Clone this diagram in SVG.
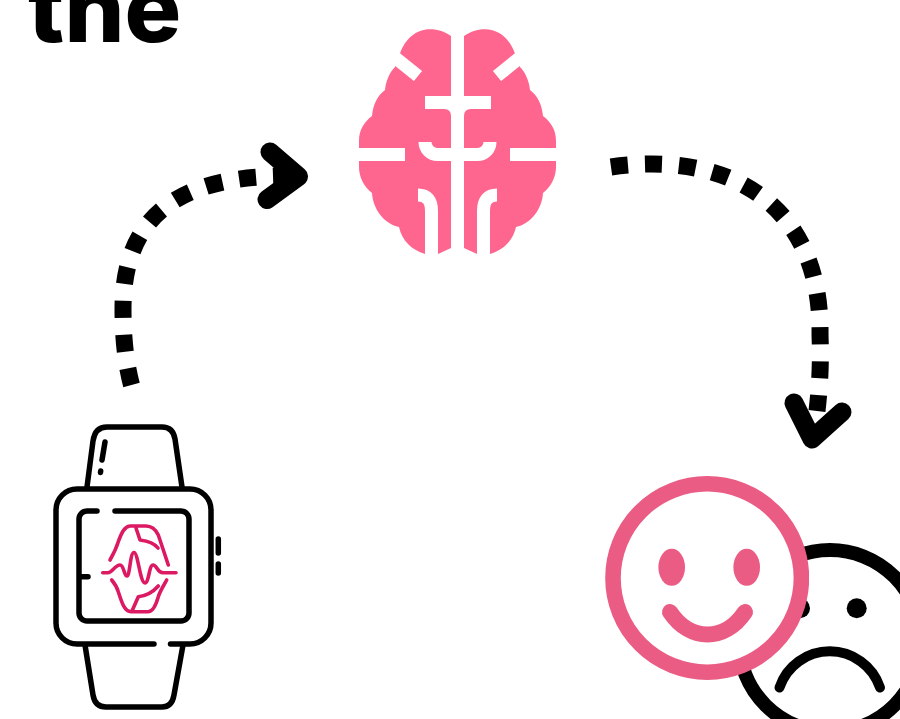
<svg xmlns="http://www.w3.org/2000/svg" width="900" height="719" viewBox="0 0 900 719">
<style>
.title{font-family:Inter,"Liberation Sans",Arial,sans-serif;font-weight:800;font-size:94.500px;fill:#000}
.cut{fill:none;stroke:#fff;stroke-width:13}
.ink{fill:none;stroke:#000;stroke-width:5.5;stroke-linecap:round;stroke-linejoin:round}
.wave{fill:none;stroke:#dc1a63;stroke-width:3.6;stroke-linecap:round;stroke-linejoin:round}
.dash{fill:none;stroke:#000;stroke-width:17}
.head{fill:none;stroke:#000;stroke-width:19;stroke-linecap:round;stroke-linejoin:round}
.brain{fill:#ff668f}
.happy{fill:#eb5c85}
</style>
<defs>
<clipPath id="happyClip"><rect x="605" y="476" width="204" height="204"/></clipPath>
</defs>
<text class="title" x="28" y="42">the</text>
<g id="brain">
<path class="brain" d="M451 36C445 32 438 29.3 430 29.3C416 29.3 405 39 400 53.6L395 67C390 72 386 80 385 90C377 96 373 105 372 116C364 122 359 130 359 141V167C359 177 364 187 372 193C373 210 385 224 399 227C402 241 412 250 425 254H438L451 248Z"/>
<path class="brain" d="M464 36C470 32 477 29.3 485 29.3C499 29.3 510 39 515 53.6L520 67C525 72 529 80 530 90C538 96 542 105 543 116C551 122 556 130 556 141V167C556 177 551 187 543 193C542 210 530 224 516 227C513 241 503 250 490 254H477L464 248Z"/>
<path class="cut" d="M457.500 25V256M425 102.500H491M385 49.500L418 76M530 49.500L497 76M350 154.500H405M510 154.500H565"/>
<path class="cut" d="M425 142A12.500 12.500 0 0 0 437.500 154.500H477.500A12.500 12.500 0 0 0 490 142"/>
<path class="cut" d="M431.500 256V211Q431.500 195 418 195M483.500 256V211Q483.500 195 497 195"/>
<path d="M444 109Q451 109 451 116V109ZM471 109Q464 109 464 116V109Z" fill="#fff"/>
</g>
<g id="watch">
<path class="ink" d="M87 487L93 441Q95 427 107 427H162Q173 427 175 439L182 487M85 645L93 695Q95 707 106 707H162Q172 707 174 695L183 645"/>
<path class="ink" d="M170.500 644H190A21 21 0 0 0 211 623V510A21 21 0 0 0 190 489H77A21 21 0 0 0 56 510V623A21 21 0 0 0 77 644H154"/>
<path class="ink" d="M115 511H181A8 8 0 0 1 189 519V613A8 8 0 0 1 181 621H87A8 8 0 0 1 79 613V519A8 8 0 0 1 87 511H97M79 576.700H88"/>
<path class="ink" d="M105 442L102 460M100.700 471L100.500 472.500M218.300 539V553M218.300 564V573"/>
<path class="wave" d="M102.700 572.700H108C112 572.700 115 565 120 565C124 565 124 576 127 576C130 576 130 552.500 134 552.500C138 552.500 140 583 145 583C149 583 149 565 153 565C157 565 157 572.700 163 572.700H176"/>
<path class="wave" d="M110 560C114 553 116 549 118.300 541.700C121 534 124 526.500 130 526H146C151 526 155 528 158.300 535C161 543 165 555 168.300 565M136 528L140 540C148 541 154 543 158 548"/>
<path class="wave" d="M111.700 580C115 584 117 587 118.300 591.700C121 600 124 611.700 131 611.700H148C153 611.700 156 605 158.300 596.700C160 591 164 585 166.700 580M131.700 611.700L138.300 596.700C146 596 153 592 158.300 586"/>
</g>
<g id="sad-face">
<circle cx="830" cy="641" r="91" fill="#fff" stroke="#000" stroke-width="14"/>
<circle cx="800" cy="608.300" r="10"/>
<circle cx="856.700" cy="608.300" r="10"/>
<path d="M779.500 687.500A53 53 0 0 1 880 687.500" fill="none" stroke="#000" stroke-width="10" stroke-linecap="round"/>
</g>
<g id="happy-face" clip-path="url(#happyClip)">
<circle cx="707.200" cy="578" r="94.200" fill="#fff" stroke="#eb5c85" stroke-width="15.600"/>
<ellipse class="happy" cx="671.700" cy="567.300" rx="13.300" ry="18.500"/>
<ellipse class="happy" cx="746.700" cy="567.300" rx="13.300" ry="18.500"/>
<path d="M670 612C690 642 725 642 745 612" fill="none" stroke="#eb5c85" stroke-width="16" stroke-linecap="round"/>
</g>
<g id="connectors">
<path class="dash" stroke-dasharray="17 16.900" d="M131.500 385C125 360 123 335 123 309C123 218 176 174 295 176"/>
<path class="head" d="M270 152L298.500 176.500L267 199.500"/>
<path class="dash" stroke-dasharray="17 17" d="M611 167C730 150 822 205 820 335C821 360 820 385 817 411"/>
<path class="head" d="M794 403L812 439L842 412"/>
</g>
</svg>
